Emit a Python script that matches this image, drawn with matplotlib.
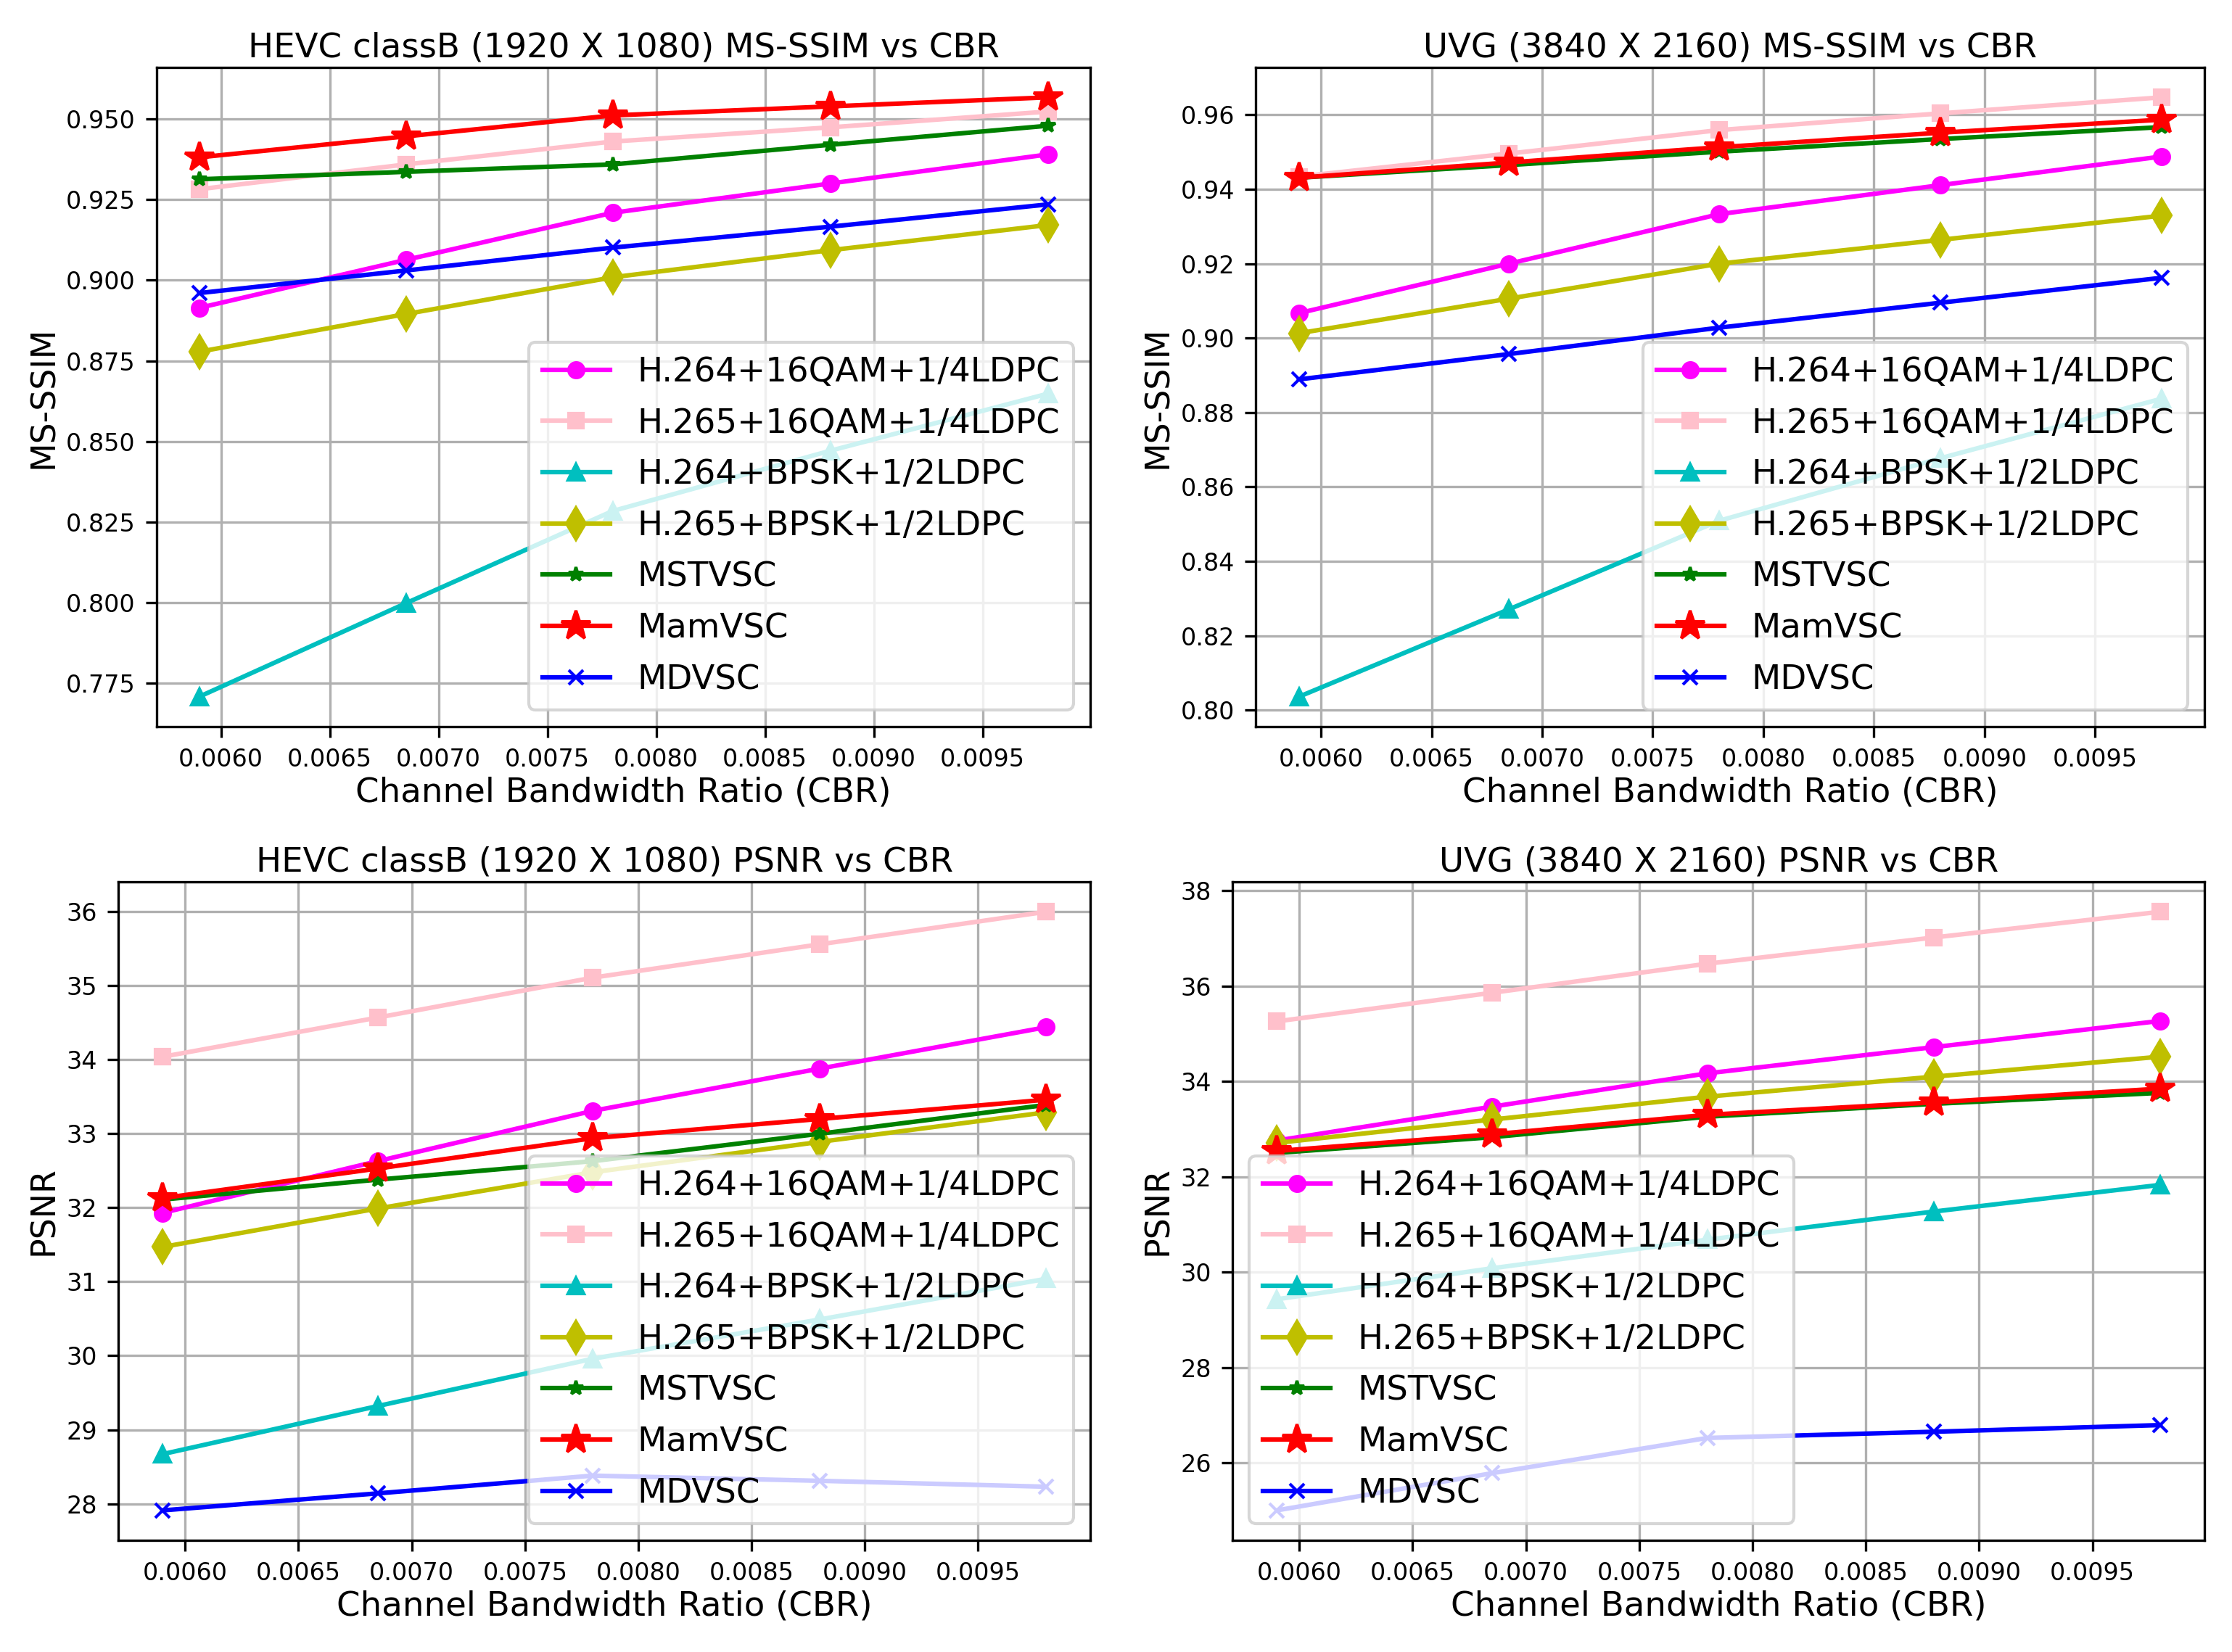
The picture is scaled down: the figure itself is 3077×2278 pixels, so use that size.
import matplotlib
matplotlib.use("Agg")
import matplotlib.pyplot as plt

cbr = [0.0059, 0.00685, 0.0078, 0.0088, 0.0098]

labels = ["H.264+16QAM+1/4LDPC", "H.265+16QAM+1/4LDPC", "H.264+BPSK+1/2LDPC",
          "H.265+BPSK+1/2LDPC", "MSTVSC", "MamVSC", "MDVSC"]

# HEVC classB MS-SSIM
hevc_ssim_h264_16qam = [0.8914, 0.9063, 0.9209, 0.9300, 0.9390]
hevc_ssim_h265_16qam = [0.9282, 0.9359, 0.9430, 0.9474, 0.9523]
hevc_ssim_h264_bpsk = [0.7708, 0.7998, 0.8284, 0.8471, 0.8648]
hevc_ssim_h265_bpsk = [0.8778, 0.8895, 0.9009, 0.9093, 0.9171]
hevc_ssim_mstvsc = [0.9313, 0.9336, 0.9359, 0.9420, 0.9479]
hevc_ssim_mamvsc = [0.9381, 0.9446, 0.9511, 0.9539, 0.9567]
hevc_ssim_mdvsc = [0.8960, 0.9030, 0.9101, 0.9166, 0.9235]

# UVG MS-SSIM
uvg_ssim_h264_16qam = [0.9067, 0.9200, 0.9333, 0.9411, 0.9488]
uvg_ssim_h265_16qam = [0.9434, 0.9496, 0.9559, 0.9604, 0.9647]
uvg_ssim_h264_bpsk = [0.8036, 0.8271, 0.8509, 0.8677, 0.8837]
uvg_ssim_h265_bpsk = [0.9013, 0.9106, 0.9200, 0.9264, 0.9329]
uvg_ssim_mstvsc = [0.9431, 0.9465, 0.9501, 0.9535, 0.9567]
uvg_ssim_mamvsc = [0.9431, 0.9472, 0.9513, 0.9552, 0.9587]
uvg_ssim_mdvsc = [0.8889, 0.8957, 0.9028, 0.9095, 0.9162]

# HEVC classB PSNR
hevc_psnr_h264_16qam = [31.93, 32.63, 33.31, 33.88, 34.44]
hevc_psnr_h265_16qam = [34.04, 34.57, 35.11, 35.56, 36.00]
hevc_psnr_h264_bpsk = [28.67, 29.32, 29.96, 30.49, 31.04]
hevc_psnr_h265_bpsk = [31.47, 31.99, 32.48, 32.89, 33.29]
hevc_psnr_mstvsc = [32.11, 32.38, 32.63, 33.00, 33.39]
hevc_psnr_mamvsc = [32.13, 32.53, 32.94, 33.20, 33.46]
hevc_psnr_mdvsc = [27.91, 28.14, 28.38, 28.31, 28.23]

# UVG PSNR
uvg_psnr_h264_16qam = [32.76, 33.47, 34.17, 34.72, 35.27]
uvg_psnr_h265_16qam = [35.26, 35.86, 36.47, 37.02, 37.56]
uvg_psnr_h264_bpsk = [29.43, 30.08, 30.68, 31.27, 31.83]
uvg_psnr_h265_bpsk = [32.71, 33.20, 33.68, 34.10, 34.52]
uvg_psnr_mstvsc = [32.50, 32.83, 33.26, 33.53, 33.76]
uvg_psnr_mamvsc = [32.54, 32.89, 33.30, 33.56, 33.85]
uvg_psnr_mdvsc = [25.00, 25.78, 26.52, 26.65, 26.79]

styles = [
    dict(color="magenta", marker="o", markersize=5),
    dict(color="pink", marker="s", markersize=5),
    dict(color="c", marker="^", markersize=5.5),
    dict(color="y", marker="d", markersize=7.5),
    dict(color="g", marker="*", markersize=5),
    dict(color="r", marker="*", markersize=10),
    dict(color="b", marker="x", markersize=5),
]

panels = [
    ("HEVC classB (1920 X 1080) MS-SSIM vs CBR", "MS-SSIM",
     [hevc_ssim_h264_16qam, hevc_ssim_h265_16qam, hevc_ssim_h264_bpsk, hevc_ssim_h265_bpsk,
      hevc_ssim_mstvsc, hevc_ssim_mamvsc, hevc_ssim_mdvsc], "lower right",
     [0.0702, 0.5601, 0.4885 - 0.0702, 0.9592 - 0.5601]),
    ("UVG (3840 X 2160) MS-SSIM vs CBR", "MS-SSIM",
     [uvg_ssim_h264_16qam, uvg_ssim_h265_16qam, uvg_ssim_h264_bpsk, uvg_ssim_h265_bpsk,
      uvg_ssim_mstvsc, uvg_ssim_mamvsc, uvg_ssim_mdvsc], "lower right",
     [0.5626, 0.5601, 0.9877 - 0.5626, 0.9592 - 0.5601]),
    ("HEVC classB (1920 X 1080) PSNR vs CBR", "PSNR",
     [hevc_psnr_h264_16qam, hevc_psnr_h265_16qam, hevc_psnr_h264_bpsk, hevc_psnr_h265_bpsk,
      hevc_psnr_mstvsc, hevc_psnr_mamvsc, hevc_psnr_mdvsc], "lower right",
     [0.0530, 0.0676, 0.4885 - 0.0530, 0.4662 - 0.0676]),
    ("UVG (3840 X 2160) PSNR vs CBR", "PSNR",
     [uvg_psnr_h264_16qam, uvg_psnr_h265_16qam, uvg_psnr_h264_bpsk, uvg_psnr_h265_bpsk,
      uvg_psnr_mstvsc, uvg_psnr_mamvsc, uvg_psnr_mdvsc], "lower left",
     [0.5522, 0.0676, 0.9877 - 0.5522, 0.4662 - 0.0676]),
]

fig = plt.figure(figsize=(3077 / 300, 2278 / 300), dpi=300)

for title, ylabel, series, loc, rect in panels:
    ax = fig.add_axes(rect)
    for lab, vals, st in zip(labels, series, styles):
        ax.plot(cbr, vals, label=lab, linewidth=1.5, **st)
    ax.set_title(title, fontsize=11.2, pad=3.5)
    ax.set_xlabel("Channel Bandwidth Ratio (CBR)", fontsize=11.2, labelpad=1.5)
    ax.set_ylabel(ylabel, fontsize=11, labelpad=2)
    ax.tick_params(labelsize=8)
    ax.grid(True)
    ax.legend(loc=loc, fontsize=11.2, labelspacing=0.55)

fig.savefig("out.png", dpi=300)
